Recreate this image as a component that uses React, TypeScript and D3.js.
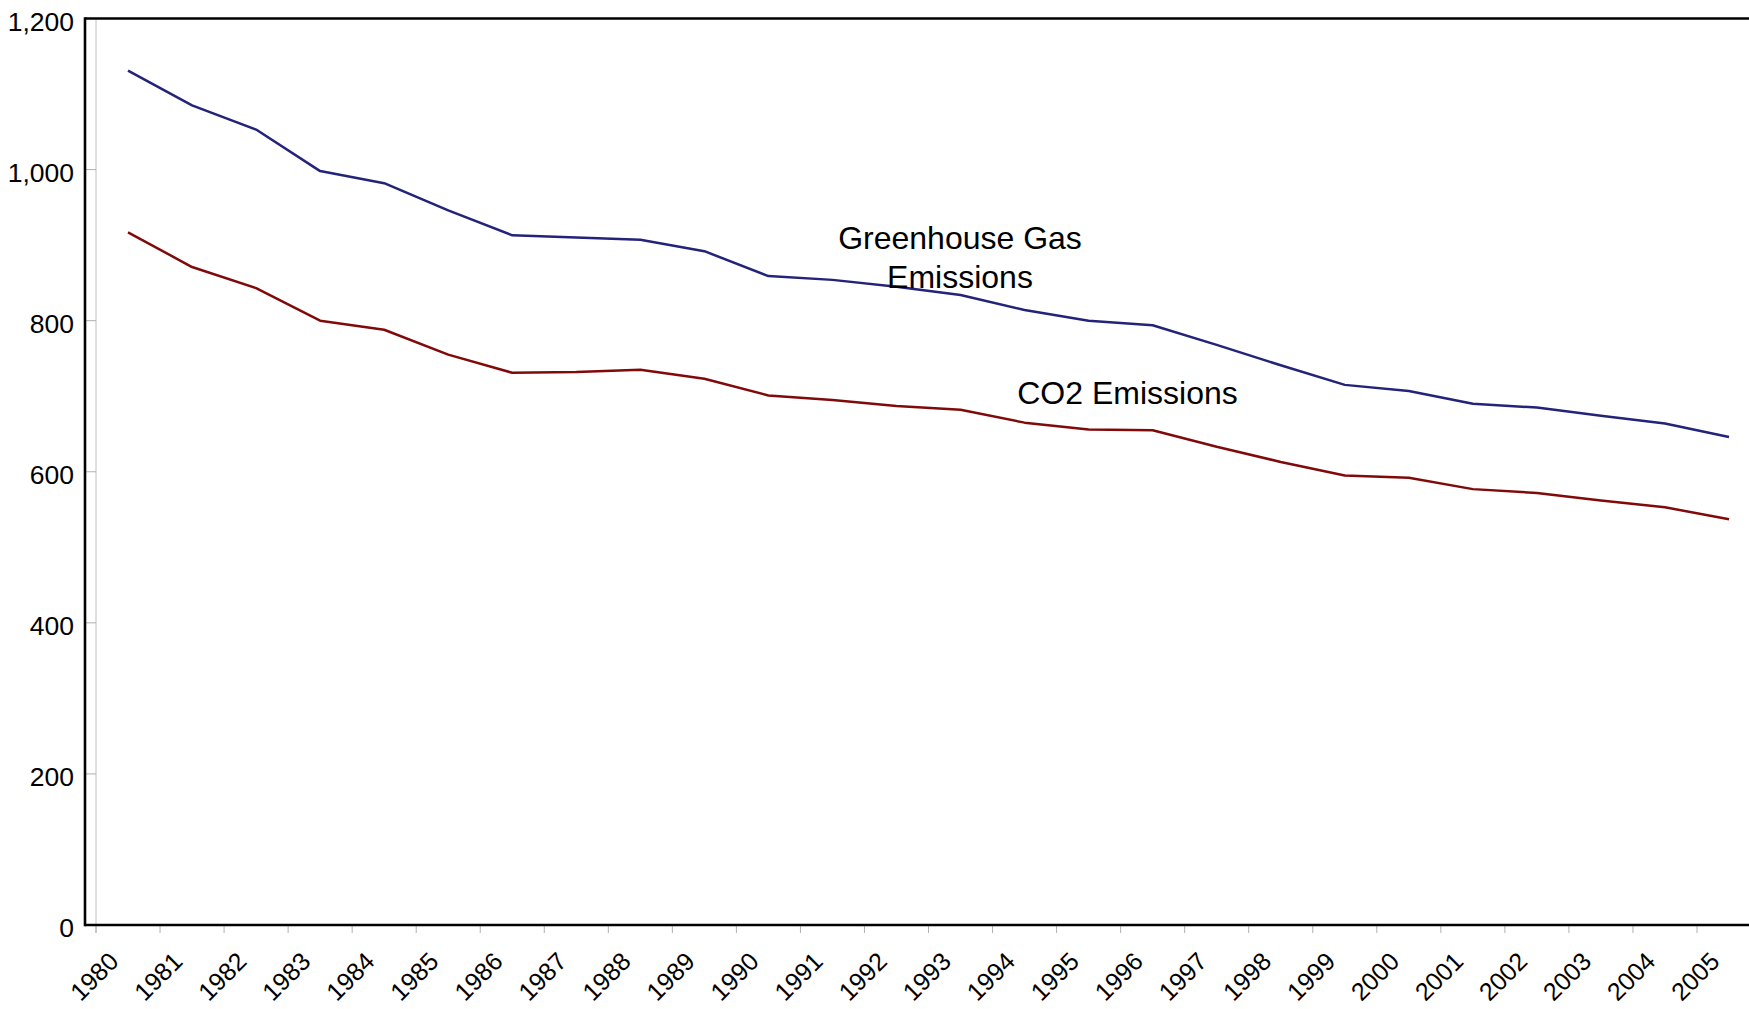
import React from "react";
import * as d3 from "d3";

const years: string[] = [
  "1980","1981","1982","1983","1984","1985","1986","1987","1988","1989",
  "1990","1991","1992","1993","1994","1995","1996","1997","1998","1999",
  "2000","2001","2002","2003","2004","2005",
];
const ghgEmissions: number[] = [
  1131,1085,1053,998,982,946,913,910,907,892,
  859,854,845,834,814,800,794,768,741,715,
  707,690,685,674,664,646,
];
const co2Emissions: number[] = [
  917,871,843,800,788,755,731,732,735,723,
  701,695,687,682,665,656,655,633,613,595,
  592,577,572,562,553,537,
];
const yTicks: number[] = [0, 200, 400, 600, 800, 1000, 1200];

const W = 1749;
const H = 1009;
const FONT = "'Liberation Sans', Arial, sans-serif";

export default function App() {
  const frameLeft = 85;
  const innerLeft = 96;
  const top = 18.5;
  const bottom = 925;
  const step = 64.04;

  const x = d3
    .scaleBand<string>()
    .domain(years)
    .range([innerLeft, innerLeft + step * years.length])
    .padding(0);
  const y = d3.scaleLinear().domain([0, 1200]).range([bottom, top]);
  const fmt = d3.format(",");

  const line = d3
    .line<number>()
    .x((_, i) => (x(years[i]) as number) + x.bandwidth() / 2)
    .y((d) => y(d));

  return (
    <svg
      width={W}
      height={H}
      style={{ position: "absolute", left: 0, top: 0, background: "#fff" }}
      fontFamily={FONT}
    >
      <rect x={0} y={0} width={W} height={H} fill="#fff" />
      {/* inner vertical gray line */}
      <line x1={innerLeft} x2={innerLeft} y1={top} y2={bottom + 8} stroke="#c0c0c0" strokeWidth={1} />
      {/* y ticks */}
      {yTicks.map((t) => (
        <g key={"y" + t}>
          <line x1={frameLeft + 1} x2={innerLeft} y1={y(t)} y2={y(t)} stroke="#b0b0b0" strokeWidth={1} />
          <text
            x={74}
            y={y(t) + 3}
            textAnchor="end"
            dominantBaseline="central"
            fontSize={26.5}
            fill="#000"
          >
            {fmt(t)}
          </text>
        </g>
      ))}
      {/* x ticks and labels */}
      {years.map((yr) => {
        const xs = x(yr) as number;
        const ax = xs + 24;
        const ay = 963;
        return (
          <g key={"x" + yr}>
            <line x1={xs} x2={xs} y1={bottom + 1} y2={bottom + 8} stroke="#b0b0b0" strokeWidth={1} />
            <text
              x={ax}
              y={ay}
              textAnchor="end"
              fontSize={25}
              fill="#000"
              transform={`rotate(-45 ${ax} ${ay})`}
            >
              {yr}
            </text>
          </g>
        );
      })}
      {/* frame */}
      <line x1={frameLeft} x2={W + 5} y1={top} y2={top} stroke="#000" strokeWidth={2.6} />
      <line x1={frameLeft} x2={W + 5} y1={bottom} y2={bottom} stroke="#000" strokeWidth={2.6} />
      <line x1={frameLeft} x2={frameLeft} y1={top - 1.3} y2={bottom + 1.3} stroke="#000" strokeWidth={2.6} />
      {/* series */}
      <path d={line(ghgEmissions) || ""} fill="none" stroke="#23237a" strokeWidth={2.5} strokeLinejoin="round" />
      <path d={line(co2Emissions) || ""} fill="none" stroke="#800a0a" strokeWidth={2.5} strokeLinejoin="round" />
      {/* annotations */}
      <text x={960} y={248.5} textAnchor="middle" fontSize={32} fill="#000">
        Greenhouse Gas
      </text>
      <text x={960} y={287.5} textAnchor="middle" fontSize={32} fill="#000">
        Emissions
      </text>
      <text x={1127.5} y={403.5} textAnchor="middle" fontSize={32} fill="#000">
        CO2 Emissions
      </text>
    </svg>
  );
}
